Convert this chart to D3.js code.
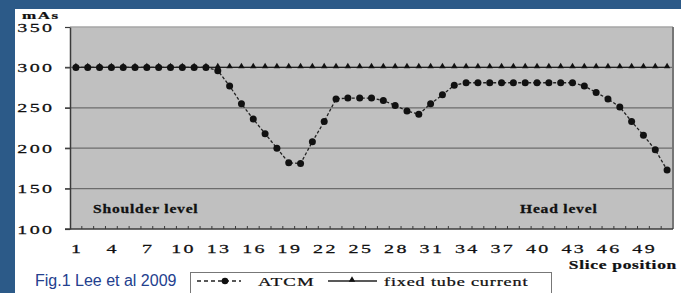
<!DOCTYPE html>
<html>
<head>
<meta charset="utf-8">
<script src="https://cdn.jsdelivr.net/npm/d3@7"></script>
<style>
  body { margin: 0; background: #2c5a88; }
  svg { display: block; }
  .serif { font-family: "Liberation Serif", "Times New Roman", serif; fill: #111; stroke: #111; stroke-width: 0.25px; }
</style>
</head>
<body>
<div class="chart"></div>
<script>
// slice positions along the scan
var slices = [1, 2, 3, 4, 5, 6, 7, 8, 9, 10, 11, 12, 13, 14, 15, 16, 17, 18, 19, 20,
  21, 22, 23, 24, 25, 26, 27, 28, 29, 30, 31, 32, 33, 34, 35, 36, 37, 38, 39, 40,
  41, 42, 43, 44, 45, 46, 47, 48, 49, 50, 51];

// mAs with tube current modulation (ATCM)
var atcm = [300, 300, 300, 300, 300, 300, 300, 300, 300, 300, 300, 300, 296, 277, 255, 236, 218, 200, 182, 181,
  208, 233, 261, 262, 262, 262, 259, 253, 246, 242, 255, 266, 278, 281, 281, 281, 281, 281, 281, 281,
  281, 281, 281, 277, 269, 261, 251, 233, 216, 198, 173];

// mAs with fixed tube current
var fixed = [300, 300, 300, 300, 300, 300, 300, 300, 300, 300, 300, 300, 300, 300, 300, 300, 300, 300, 300, 300,
  300, 300, 300, 300, 300, 300, 300, 300, 300, 300, 300, 300, 300, 300, 300, 300, 300, 300, 300, 300,
  300, 300, 300, 300, 300, 300, 300, 300, 300, 300, 300];

var xLabels = [1, 4, 7, 10, 13, 16, 19, 22, 25, 28, 31, 34, 37, 40, 43, 46, 49];
var yTicks = [100, 150, 200, 250, 300, 350];
var seriesNames = ["ATCM", "fixed tube current"];

var W = 681, H = 293;
var plot = {left: 70, right: 673, top: 27, bottom: 229};

var svg = d3.select(".chart").append("svg")
    .attr("width", W)
    .attr("height", H);

// white panel inside the blue frame
svg.append("rect")
    .attr("x", 15).attr("y", 9)
    .attr("width", W - 15).attr("height", H - 9)
    .attr("fill", "#ffffff");

var x = d3.scaleBand()
    .domain(slices)
    .range([plot.left, plot.right])
    .padding(0);

var y = d3.scaleLinear()
    .domain([100, 350])
    .range([plot.bottom, plot.top]);

var cx = function(s) { return x(s) + x.bandwidth() / 2; };

// stretched serif text like the scanned figure
function wide(g, px, py, str, o) {
  return g.append("text")
    .attr("class", "serif")
    .attr("transform", "translate(" + px + "," + py + ") scale(" + o.sx + ",1)")
    .attr("text-anchor", o.anchor || "start")
    .style("font-size", o.size + "px")
    .style("font-weight", o.bold ? "bold" : "normal")
    .style("letter-spacing", o.ls + "px")
    .text(str);
}

// plot background
svg.append("rect")
    .attr("x", plot.left).attr("y", plot.top)
    .attr("width", plot.right - plot.left)
    .attr("height", plot.bottom - plot.top)
    .attr("fill", "#c0c0c0");

// gridlines
svg.append("g").selectAll("line")
  .data(yTicks.filter(function(d) { return d > 100 && d < 350; }))
  .enter().append("line")
    .attr("x1", plot.left - 5).attr("x2", plot.right)
    .attr("y1", function(d) { return y(d); })
    .attr("y2", function(d) { return y(d); })
    .attr("stroke", "#6c6c6c")
    .attr("stroke-width", 1.3);

// top and right border
svg.append("line")
    .attr("x1", plot.left).attr("x2", plot.right)
    .attr("y1", plot.top).attr("y2", plot.top)
    .attr("stroke", "#a6a6a6").attr("stroke-width", 1.5);
svg.append("line")
    .attr("x1", plot.right).attr("x2", plot.right)
    .attr("y1", plot.top).attr("y2", plot.bottom)
    .attr("stroke", "#767676").attr("stroke-width", 2);

// y axis
var yAxis = svg.append("g")
    .attr("transform", "translate(" + plot.left + ",0)")
    .call(d3.axisLeft(y).tickValues(yTicks).tickSize(5).tickSizeOuter(0));
yAxis.select(".domain").attr("stroke", "#3a3a3a").attr("stroke-width", 1.5);
yAxis.selectAll(".tick line").attr("stroke", "#3a3a3a").attr("stroke-width", 1.2);
yAxis.selectAll("text")
    .attr("class", "serif")
    .attr("x", -9.7)
    .attr("transform", "scale(1.6,1)")
    .style("font-size", "12.5px")
    .style("letter-spacing", "1.5px");

// x axis: labels every third slice, small marks between slices
var xAxis = svg.append("g")
    .attr("transform", "translate(0," + plot.bottom + ")")
    .call(d3.axisBottom(x).tickValues(xLabels).tickSize(0).tickPadding(17));
xAxis.select(".domain").remove();
xAxis.selectAll("text")
    .attr("class", "serif")
    .attr("dx", "0.8px")
    .attr("dy", "0.6em")
    .attr("transform", "scale(1.6,1)")
    .style("font-size", "12.5px")
    .style("letter-spacing", "1.5px");

svg.append("g").selectAll("line")
  .data(slices.slice(1))
  .enter().append("line")
    .attr("x1", function(d) { return x(d); })
    .attr("x2", function(d) { return x(d); })
    .attr("y1", plot.bottom).attr("y2", plot.bottom - 3)
    .attr("stroke", "#3a3a3a").attr("stroke-width", 1);

svg.append("line")
    .attr("x1", plot.left - 5).attr("x2", plot.right)
    .attr("y1", plot.bottom).attr("y2", plot.bottom)
    .attr("stroke", "#3a3a3a").attr("stroke-width", 1.5);

// fixed tube current: solid with triangles
var line = d3.line()
    .x(function(d, i) { return cx(slices[i]); })
    .y(function(d) { return y(d); });

svg.append("path")
    .datum(fixed)
    .attr("d", line)
    .attr("fill", "none")
    .attr("stroke", "#222")
    .attr("stroke-width", 1.3);

var tri = d3.symbol().type(d3.symbolTriangle).size(18);
svg.append("g").selectAll("path")
  .data(fixed)
  .enter().append("path")
    .attr("d", tri)
    .attr("transform", function(d, i) { return "translate(" + cx(slices[i]) + "," + (y(d) - 1) + ")"; })
    .attr("fill", "#111");

// ATCM: dashed with round dots
svg.append("path")
    .datum(atcm)
    .attr("d", line)
    .attr("fill", "none")
    .attr("stroke", "#222")
    .attr("stroke-width", 1.3)
    .attr("stroke-dasharray", "3,2");

svg.append("g").selectAll("circle")
  .data(atcm)
  .enter().append("circle")
    .attr("cx", function(d, i) { return cx(slices[i]); })
    .attr("cy", function(d) { return y(d); })
    .attr("r", 3.5)
    .attr("fill", "#111");

// annotations
wide(svg, 93, 213, "Shoulder level", {size: 12, bold: true, ls: 0.6, sx: 1.3});
wide(svg, 520, 213, "Head level", {size: 12, bold: true, ls: 0.6, sx: 1.3});
wide(svg, 22, 19, "mAs", {size: 11, bold: true, ls: 1, sx: 1.55});
wide(svg, 677, 268.5, "Slice position", {size: 12, bold: true, ls: 0.5, sx: 1.45, anchor: "end"});

// caption
svg.append("text")
    .attr("x", 35).attr("y", 286)
    .style("font-family", "'Liberation Sans', Arial, sans-serif")
    .style("font-size", "16px")
    .attr("fill", "#23408e")
    .text("Fig.1 Lee et al 2009");

// legend
var legend = svg.append("g");
legend.append("rect")
    .attr("x", 190.5).attr("y", 272.5)
    .attr("width", 361).attr("height", 30)
    .attr("fill", "#fff")
    .attr("stroke", "#777").attr("stroke-width", 1);

legend.append("line")
    .attr("x1", 197).attr("x2", 241).attr("y1", 281).attr("y2", 281)
    .attr("stroke", "#222").attr("stroke-width", 1.3)
    .attr("stroke-dasharray", "4,3");
legend.append("circle")
    .attr("cx", 225).attr("cy", 281).attr("r", 3.3)
    .attr("fill", "#111");
wide(legend, 258, 286, seriesNames[0], {size: 12.5, ls: 0.8, sx: 1.5});

legend.append("line")
    .attr("x1", 328).attr("x2", 377).attr("y1", 281).attr("y2", 281)
    .attr("stroke", "#222").attr("stroke-width", 1.3);
legend.append("path")
    .attr("d", tri)
    .attr("transform", "translate(352,280)")
    .attr("fill", "#111");
wide(legend, 384, 286, seriesNames[1], {size: 12.5, ls: 0.6, sx: 1.45});
</script>
</body>
</html>
